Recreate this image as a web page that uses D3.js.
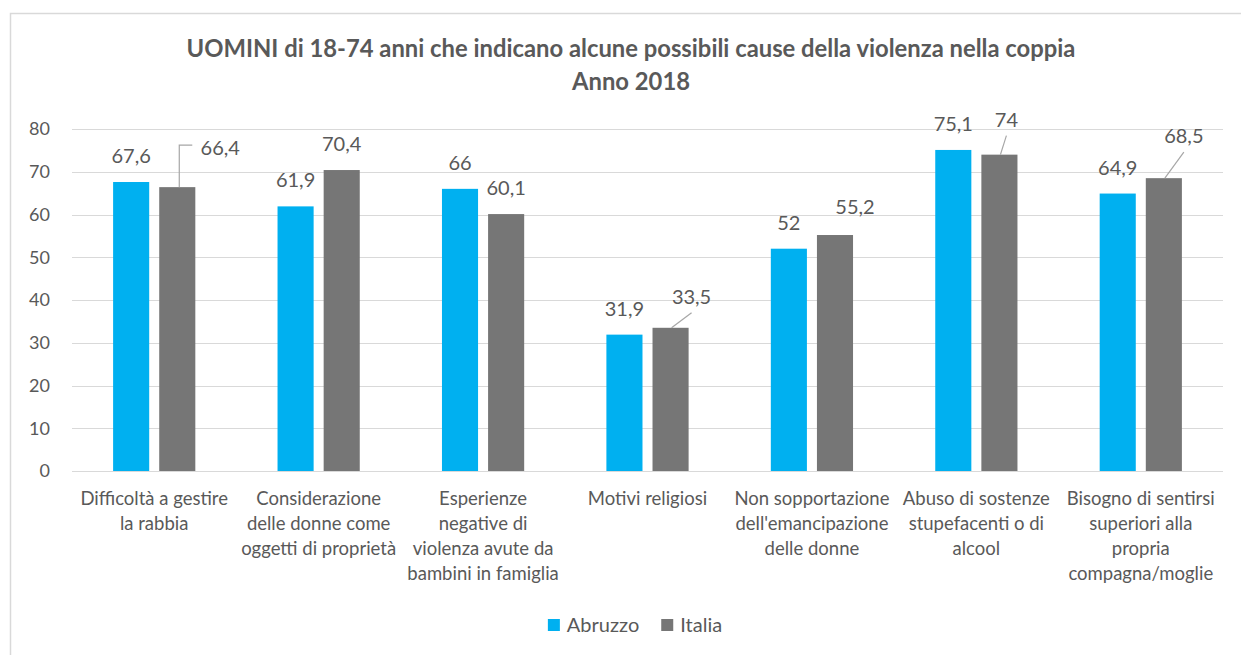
<!DOCTYPE html>
<html>
<head>
<meta charset="utf-8">
<script src="https://cdn.jsdelivr.net/npm/d3@7/dist/d3.min.js"></script>
<style>
  html, body { margin: 0; padding: 0; background: #fff; }
  svg { display: block; font-family: Lato, "Open Sans", sans-serif; }
</style>
</head>
<body>
<svg id="chart" width="1241" height="655"></svg>
<script>
// Categories (wrapped label lines for the x axis)
const categories = [
  ["Difficoltà a gestire", "la rabbia"],
  ["Considerazione", "delle donne come", "oggetti di proprietà"],
  ["Esperienze", "negative di", "violenza avute da", "bambini in famiglia"],
  ["Motivi religiosi"],
  ["Non sopportazione", "dell'emancipazione", "delle donne"],
  ["Abuso di sostenze", "stupefacenti o di", "alcool"],
  ["Bisogno di sentirsi", "superiori alla", "propria", "compagna/moglie"]
];
const seriesNames = ["Abruzzo", "Italia"];
const abruzzo = [67.6, 61.9, 66, 31.9, 52, 75.1, 64.9];
const italia  = [66.4, 70.4, 60.1, 33.5, 55.2, 74, 68.5];
const yTicks  = [0, 10, 20, 30, 40, 50, 60, 70, 80];
const titleLines = [
  "UOMINI di 18-74 anni che indicano alcune possibili cause della violenza nella coppia",
  "Anno 2018"
];

const colors = { Abruzzo: "#00B0F0", Italia: "#767676" };
const textColor = "#595959";

// Label placement tweaks for crowded labels (offsets from the bar's top centre)
const labelNudge = {
  Italia: {
    0: { dx: 43, dy: -39, leader: "elbow" },
    3: { dx: 21, dy: -31, leader: "line" },
    4: { dx: 20, dy: -28 },
    5: { dx: 7,  dy: -35, leader: "line" },
    6: { dx: 20, dy: -42, leader: "line" }
  }
};

const svg = d3.select("#chart");
const W = 1241, H = 655;
const plot = { left: 72, right: 1223, top: 129, bottom: 471 };

// Chart frame
svg.append("rect")
  .attr("x", 10.5).attr("y", 13.5)
  .attr("width", W).attr("height", H)
  .attr("fill", "#fff").attr("stroke", "#d9d9d9").attr("stroke-width", 1.5);

// Title
const title = svg.append("text")
  .attr("text-anchor", "middle")
  .attr("fill", textColor)
  .attr("font-weight", "bold")
  .attr("font-size", 23.8);
title.selectAll("tspan").data(titleLines).join("tspan")
  .attr("x", 631)
  .attr("y", (d, i) => i === 0 ? 57 : 90)
  .text(d => d);

const idx = d3.range(categories.length);
const x0 = d3.scaleBand().domain(idx).range([plot.left, plot.right])
  .paddingInner(0.5).paddingOuter(0.25);
const x1 = d3.scaleBand().domain(seriesNames).range([0, x0.bandwidth()])
  .paddingInner(10 / 46);
const y = d3.scaleLinear().domain([0, 80]).range([plot.bottom, plot.top]);

// Gridlines
svg.append("g").selectAll("line").data(yTicks).join("line")
  .attr("x1", plot.left).attr("x2", plot.right)
  .attr("y1", d => Math.round(y(d)) + 0.5).attr("y2", d => Math.round(y(d)) + 0.5)
  .attr("stroke", "#d9d9d9").attr("stroke-width", 1.2);

// Y axis labels
const yAxis = svg.append("g").attr("transform", "translate(50,0)")
  .call(d3.axisLeft(y).tickValues(yTicks).tickSize(0).tickPadding(0));
yAxis.select(".domain").remove();
yAxis.selectAll("text")
  .attr("fill", textColor).attr("font-size", 18)
  .attr("font-family", "Lato, 'Open Sans', sans-serif");

// Bars
const rows = [];
idx.forEach(i => {
  rows.push({ i, s: "Abruzzo", v: abruzzo[i] });
  rows.push({ i, s: "Italia", v: italia[i] });
});
svg.append("g").selectAll("rect").data(rows).join("rect")
  .attr("x", d => x0(d.i) + x1(d.s))
  .attr("y", d => y(d.v))
  .attr("width", x1.bandwidth())
  .attr("height", d => y(0) - y(d.v))
  .attr("fill", d => colors[d.s]);

// Data labels and leader lines
const fmt = v => String(v).replace(".", ",");
const labels = svg.append("g");
rows.forEach(d => {
  const cx = x0(d.i) + x1(d.s) + x1.bandwidth() / 2;
  const top = y(d.v);
  const n = (labelNudge[d.s] || {})[d.i] || { dx: 0, dy: -26 };
  const lx = cx + n.dx, ly = top + n.dy;
  if (n.leader === "elbow") {
    labels.append("path")
      .attr("d", `M${cx + 2},${top} V${ly - 3} H${lx - 28}`)
      .attr("fill", "none").attr("stroke", "#a6a6a6").attr("stroke-width", 1.2);
  } else if (n.leader === "line") {
    labels.append("path")
      .attr("d", `M${cx + 1},${top} L${lx},${ly + 16}`)
      .attr("fill", "none").attr("stroke", "#a6a6a6").attr("stroke-width", 1.2);
  }
  labels.append("text")
    .attr("x", lx).attr("y", ly).attr("dy", "0.35em")
    .attr("text-anchor", "middle")
    .attr("fill", textColor).attr("font-size", 20)
    .text(fmt(d.v));
});

// Category labels
const cat = svg.append("g");
categories.forEach((lines, i) => {
  const t = cat.append("text")
    .attr("text-anchor", "middle")
    .attr("fill", textColor).attr("font-size", 18.5);
  lines.forEach((ln, k) => {
    t.append("tspan")
      .attr("x", x0(i) + x0.bandwidth() / 2)
      .attr("y", 505 + k * 25)
      .text(ln);
  });
});

// Legend
const legend = svg.append("g");
let lxPos = 0;
seriesNames.forEach(s => {
  const g = legend.append("g").attr("transform", `translate(${lxPos},0)`);
  g.append("rect").attr("x", 0).attr("y", -6).attr("width", 12).attr("height", 12)
    .attr("fill", colors[s]);
  const t = g.append("text").attr("x", 19).attr("dy", "0.35em")
    .attr("fill", textColor).attr("font-size", 20).text(s);
  lxPos += 19 + t.node().getComputedTextLength() + 22;
});
const legendW = lxPos - 22;
legend.attr("transform", `translate(${635 - legendW / 2},625)`);
</script>
</body>
</html>
